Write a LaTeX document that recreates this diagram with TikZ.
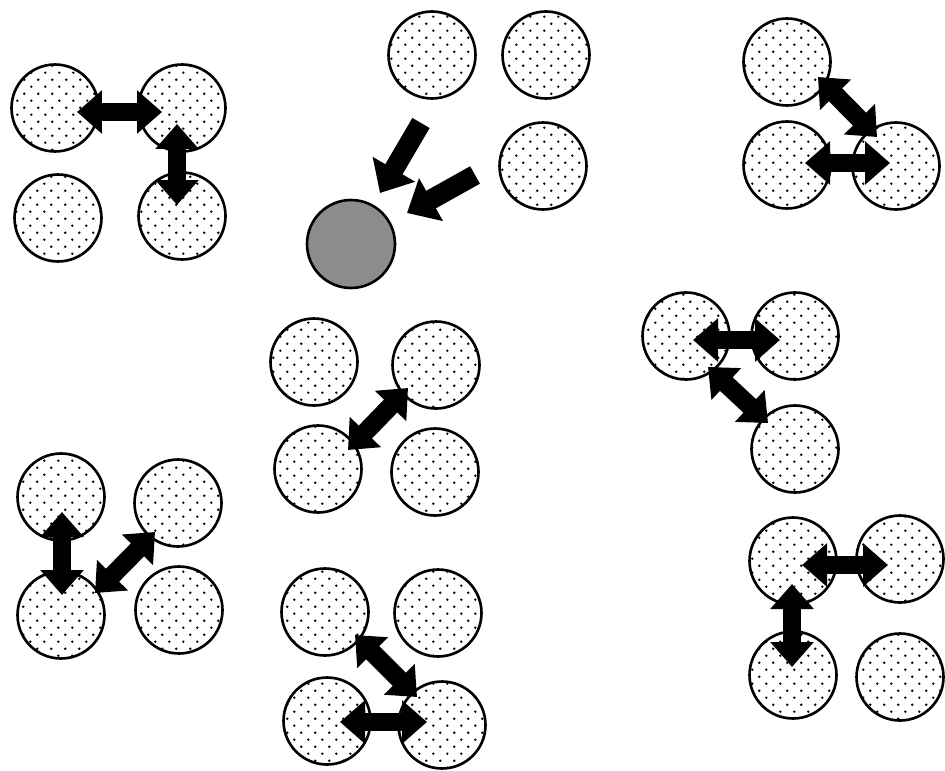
\documentclass[tikz,border=0pt]{standalone}
\usetikzlibrary{arrows.meta,patterns.meta}

\tikzdeclarepattern{
  name=sparsedots,
  type=uncolored,
  bounding box={(0pt,0pt) and (7.9pt,7.9pt)},
  tile size={(7.9pt,7.9pt)},
  code={
    \fill (1.9pt,1.9pt) circle (0.75pt);
    \fill (5.85pt,5.85pt) circle (0.75pt);
  }
}

\begin{document}
\begin{tikzpicture}[x=0.02cm, y=-0.02cm,
  ball/.style={circle, draw, line width=1.5pt, minimum size=1.74cm, inner sep=0pt, pattern=sparsedots},
  dark/.style={circle, draw, line width=1.5pt, minimum size=1.76cm, inner sep=0pt, fill=black!45},
  dbl/.style={line width=0.37cm, {Triangle[width=0.84cm,length=0.5cm]}-{Triangle[width=0.84cm,length=0.5cm]}},
  push/.style={line width=0.4cm, -{Triangle[width=0.95cm,length=0.55cm]}}]
\useasboundingbox (0,0) rectangle (945,770);

% top left
\node[ball] (v1) at (55,108) {};
\node[ball] (v2) at (182,108) {};
\node[ball] (v3) at (58,218) {};
\node[ball] (v4) at (182,216) {};
\coordinate (p1) at (77,112);
\coordinate (p2) at (162,112);
\coordinate (p3) at (177,124);
\coordinate (p4) at (177,205);
\draw[dbl] (p1) -- (p2);
\draw[dbl] (p3) -- (p4);

% top middle
\node[ball] (v5) at (432,55) {};
\node[ball] (v6) at (546,55) {};
\node[ball] (v7) at (543,166) {};
\node[dark] (v8) at (351,244) {};
\coordinate (p5) at (421,123);
\coordinate (p6) at (380,193);
\coordinate (p7) at (475,175);
\coordinate (p8) at (407,213);
\draw[push] (p5) -- (p6);
\draw[push] (p7) -- (p8);

% top right
\node[ball] (v9) at (787,62) {};
\node[ball] (v10) at (787,165) {};
\node[ball] (v11) at (896,166) {};
\coordinate (p9) at (818,77);
\coordinate (p10) at (877,137);
\coordinate (p11) at (805,163);
\coordinate (p12) at (890,163);
\draw[dbl] (p9) -- (p10);
\draw[dbl] (p11) -- (p12);

% centre
\node[ball] (v12) at (314,362) {};
\node[ball] (v13) at (436,365) {};
\node[ball] (v14) at (318,469) {};
\node[ball] (v15) at (435,472) {};
\coordinate (p13) at (348,450);
\coordinate (p14) at (408,388);
\draw[dbl] (p13) -- (p14);

% middle right
\node[ball] (v16) at (686,336) {};
\node[ball] (v17) at (795,336) {};
\node[ball] (v18) at (795,449) {};
\coordinate (p15) at (693,340);
\coordinate (p16) at (780,340);
\coordinate (p17) at (708,367);
\coordinate (p18) at (768,423);
\draw[dbl] (p15) -- (p16);
\draw[dbl] (p17) -- (p18);

% bottom left
\node[ball] (v19) at (61,497) {};
\node[ball] (v20) at (178,503) {};
\node[ball] (v21) at (61,615) {};
\node[ball] (v22) at (179,610) {};
\coordinate (p19) at (62,512);
\coordinate (p20) at (62,595);
\coordinate (p21) at (95,593);
\coordinate (p22) at (155,532);
\draw[dbl] (p19) -- (p20);
\draw[dbl] (p21) -- (p22);

% bottom middle
\node[ball] (v23) at (325,612) {};
\node[ball] (v24) at (438,613) {};
\node[ball] (v25) at (327,721) {};
\node[ball] (v26) at (442,725) {};
\coordinate (p23) at (355,635);
\coordinate (p24) at (417,697);
\coordinate (p25) at (340,722);
\coordinate (p26) at (427,722);
\draw[dbl] (p23) -- (p24);
\draw[dbl] (p25) -- (p26);

% bottom right
\node[ball] (v27) at (793,561) {};
\node[ball] (v28) at (900,559) {};
\node[ball] (v29) at (793,675) {};
\node[ball] (v30) at (900,677) {};
\coordinate (p27) at (802,565);
\coordinate (p28) at (888,565);
\coordinate (p29) at (792,584);
\coordinate (p30) at (792,667);
\draw[dbl] (p27) -- (p28);
\draw[dbl] (p29) -- (p30);
\end{tikzpicture}
\end{document}
